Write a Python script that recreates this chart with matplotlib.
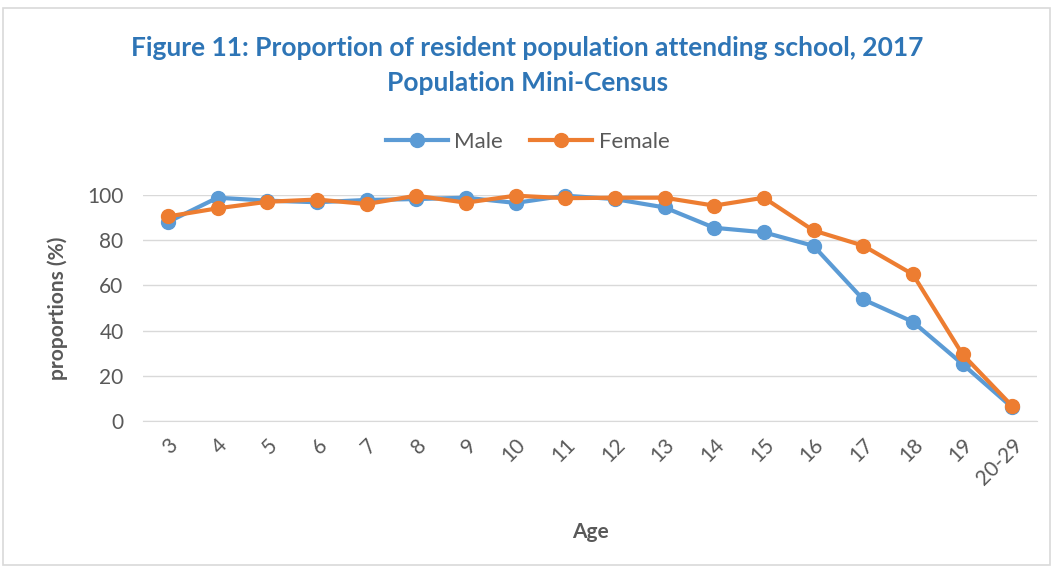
import matplotlib
matplotlib.use("Agg")
import matplotlib.pyplot as plt
from matplotlib.patches import Rectangle

ages = ["3", "4", "5", "6", "7", "8", "9", "10", "11", "12", "13", "14",
        "15", "16", "17", "18", "19", "20-29"]
male = [88, 98.8, 97.5, 96.8, 97.8, 98.2, 98.8, 96.5, 99.7, 98.2, 94.5,
        85.5, 83.5, 77.5, 53.8, 43.9, 25.2, 6.0]
female = [90.5, 94.1, 97.0, 98.0, 96.0, 99.7, 96.6, 99.7, 98.6, 98.8, 98.8,
          95.3, 98.8, 84.3, 77.6, 64.9, 29.5, 6.6]
yticks = [0, 20, 40, 60, 80, 100]

BLUE = "#5B9BD5"
ORANGE = "#ED7D31"
TITLE_BLUE = "#2E75B6"
TEXT_GRAY = "#595959"

plt.rcParams["font.family"] = ["Lato", "DejaVu Sans"]

fig = plt.figure(figsize=(10.55, 5.69), dpi=100)
fig.patches.append(Rectangle((3 / 1055, 4 / 569), 1047 / 1055, 557 / 569,
                             transform=fig.transFigure, fill=False,
                             edgecolor="#D9D9D9", linewidth=1.2))

ax = fig.add_axes([143 / 1055, 1 - 421 / 569, 894 / 1055, 226 / 569])
x = list(range(len(ages)))
ax.plot(x, male, color=BLUE, linewidth=3, marker="o", markersize=10,
        label="Male", clip_on=False, zorder=3)
ax.plot(x, female, color=ORANGE, linewidth=3, marker="o", markersize=10,
        label="Female", clip_on=False, zorder=4)

ax.set_xlim(-0.5, len(ages) - 0.5)
ax.set_ylim(0, 100)
ax.set_yticks(yticks)
ax.set_xticks(x)
ax.set_xticklabels(ages, rotation=45, ha="right", va="top",
                   rotation_mode="anchor")
ax.tick_params(axis="both", length=0, labelsize=15, labelcolor=TEXT_GRAY)
ax.tick_params(axis="x", pad=10)
ax.tick_params(axis="y", pad=14)
ax.grid(axis="y", color="#D9D9D9", linewidth=1)
for s in ["top", "right", "left"]:
    ax.spines[s].set_visible(False)
ax.spines["bottom"].set_color("#D9D9D9")
ax.set_axisbelow(True)

ax.set_ylabel("proportions (%)", fontsize=15, fontweight="bold",
              color=TEXT_GRAY, labelpad=14)
ax.set_xlabel("Age", fontsize=15, fontweight="bold", color=TEXT_GRAY,
              labelpad=24)

fig.text(0.5, 1 - 48 / 569, "Figure 11: Proportion of resident population attending school, 2017",
         ha="center", va="center", fontsize=19, fontweight="bold", color=TITLE_BLUE)
fig.text(0.5, 1 - 83 / 569, "Population Mini-Census",
         ha="center", va="center", fontsize=19, fontweight="bold", color=TITLE_BLUE)

leg = ax.legend(loc="center", bbox_to_anchor=(0.5, 1 - 142 / 569),
                bbox_transform=fig.transFigure, ncol=2, frameon=False,
                fontsize=16, handlelength=2.8, columnspacing=1.2,
                handletextpad=0.3)
for t in leg.get_texts():
    t.set_color(TEXT_GRAY)

fig.savefig("out.png", dpi=100)
